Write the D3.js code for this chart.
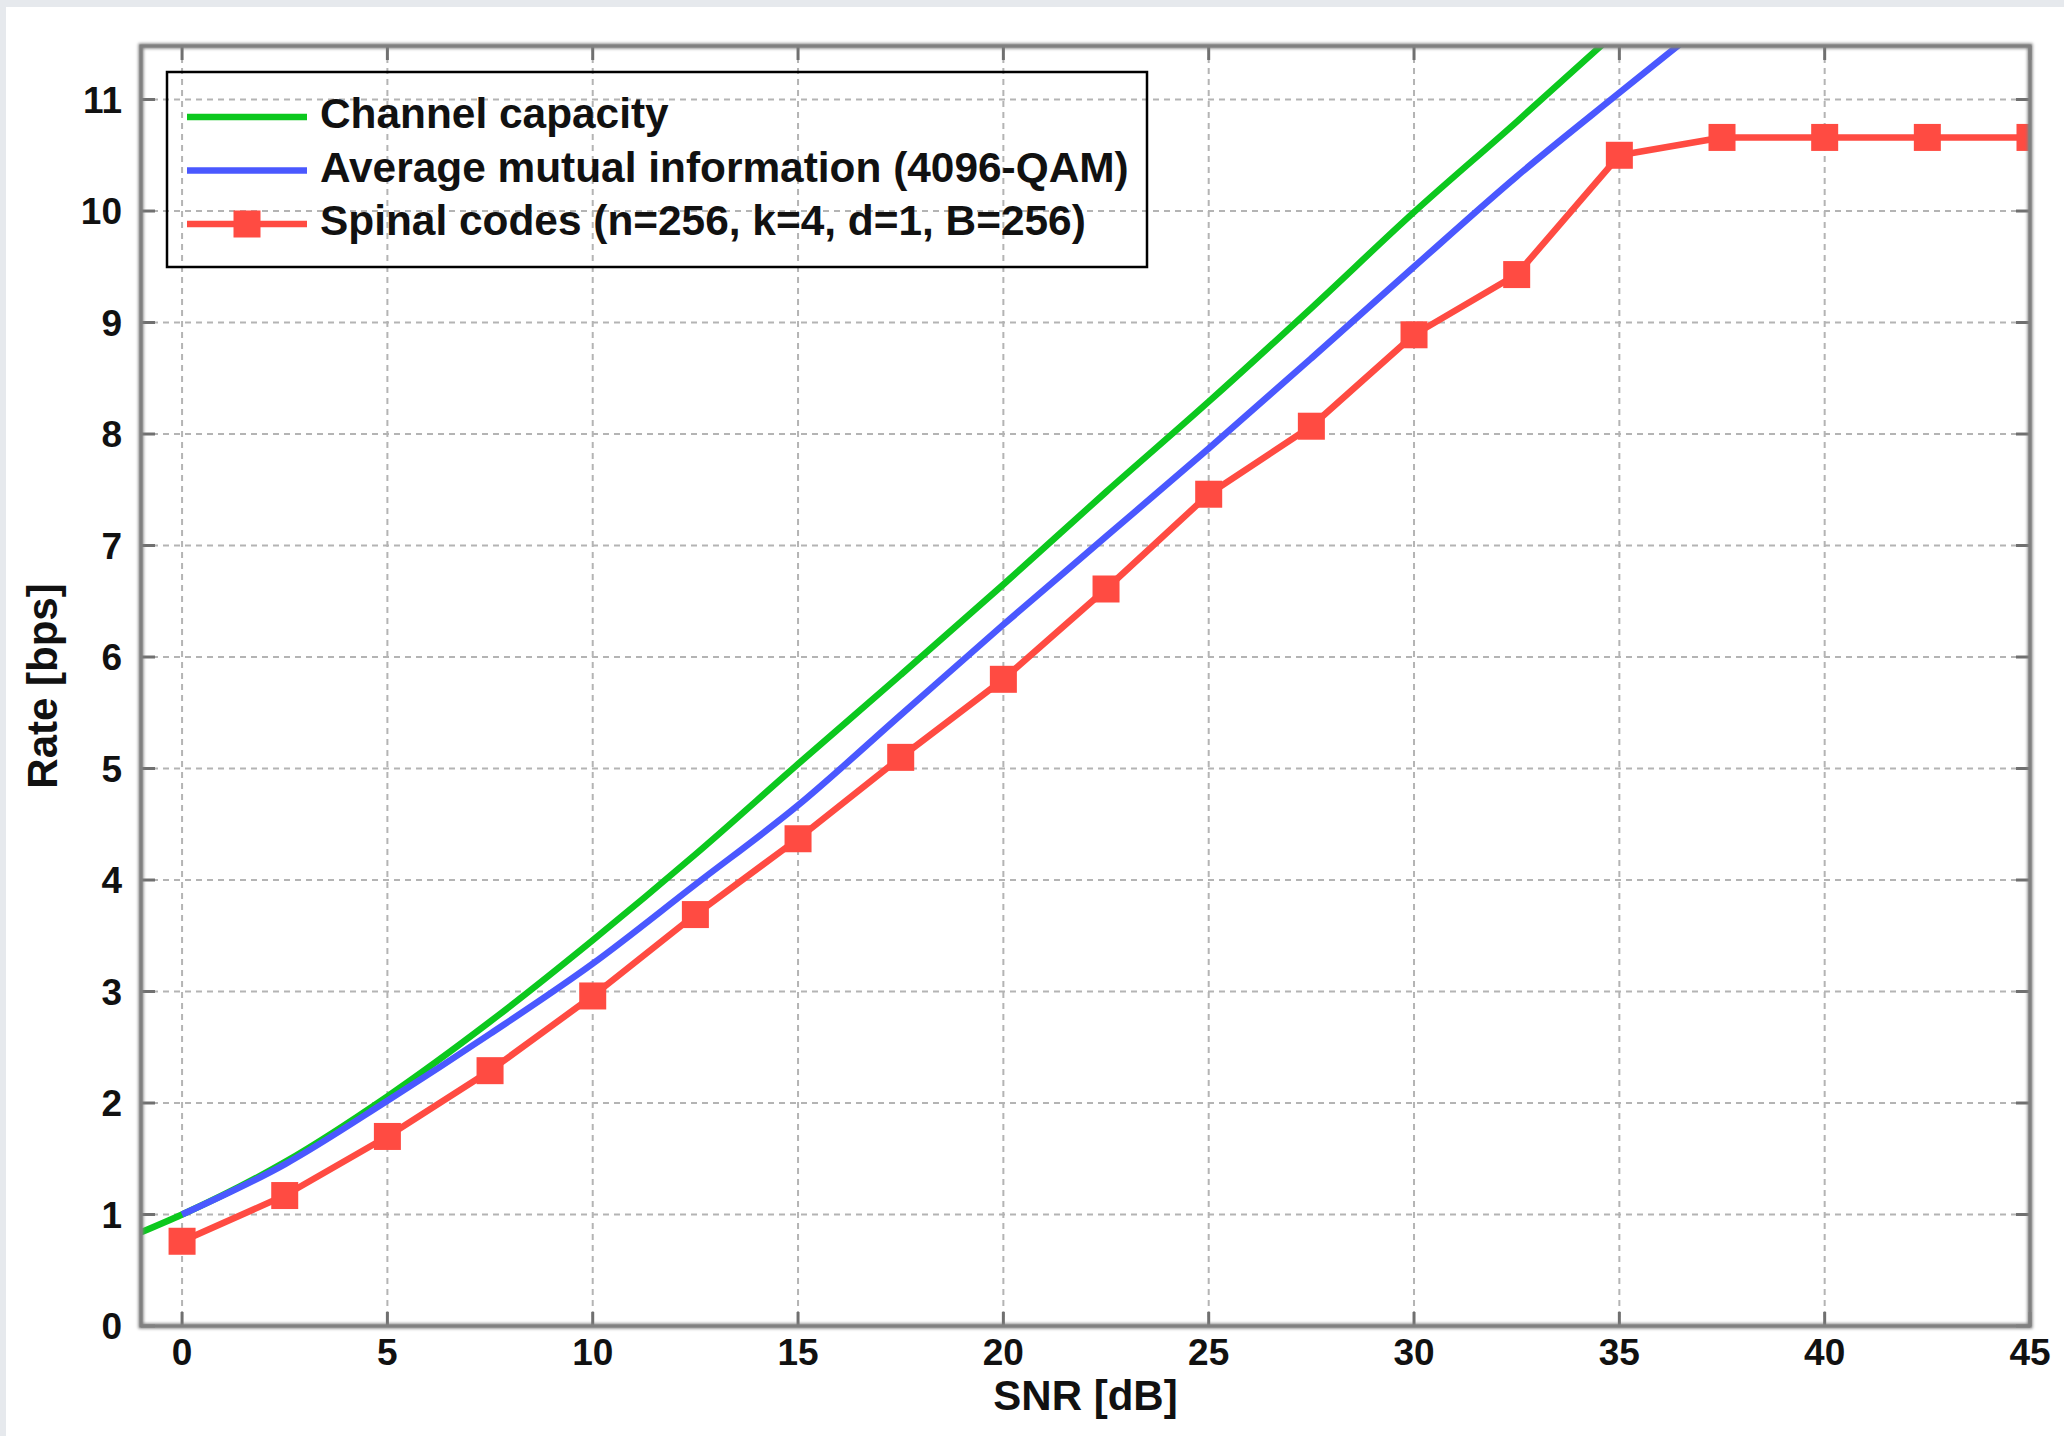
<!DOCTYPE html>
<meta charset="utf-8">
<style>
  body { margin: 0; background: #e6e9ed; }
  svg { display: block; }
  text { font-family: "Liberation Sans", Arial, sans-serif; font-weight: bold; fill: #111; }
  .grid line { stroke: #b4b4b4; stroke-width: 2; stroke-dasharray: 6 5; }
  .frame { fill: none; stroke: #808080; stroke-width: 3; }
  .tick-mark { stroke: #707070; stroke-width: 3; }
</style>
<svg width="2064" height="1436"></svg>
<script src="https://d3js.org/d3.v7.min.js"></script>
<script>

	// channel capacity (green)
	var capSnr = [-1, 0, 2.5, 5, 7.5, 10, 12.5, 15, 17.5, 20, 22.5, 25, 27.5, 30, 32.5, 35];
	var capRate = [0.84, 1.0, 1.47, 2.06, 2.73, 3.46, 4.23, 5.04, 5.84, 6.65, 7.48, 8.29, 9.13, 9.99, 10.8, 11.63];

	// average mutual information, 4096-QAM (blue)
	var amiSnr = [0, 2.5, 5, 7.5, 10, 12.5, 15, 17.5, 20, 22.5, 25, 27.5, 30, 32.5, 35, 37.5];
	var amiRate = [1.0, 1.45, 2.02, 2.62, 3.25, 3.96, 4.67, 5.48, 6.29, 7.08, 7.87, 8.68, 9.5, 10.31, 11.06, 11.8];

	// spinal codes (red, square markers)
	var spinalSnr = [0, 2.5, 5, 7.5, 10, 12.5, 15, 17.5, 20, 22.5, 25, 27.5, 30, 32.5, 35, 37.5, 40, 42.5, 45];
	var spinalRate = [0.76, 1.17, 1.7, 2.29, 2.96, 3.69, 4.37, 5.1, 5.8, 6.61, 7.46, 8.07, 8.89, 9.43, 10.5, 10.66, 10.66, 10.66, 10.66];

	var xTicks = [0, 5, 10, 15, 20, 25, 30, 35, 40, 45];
	var yTicks = [0, 1, 2, 3, 4, 5, 6, 7, 8, 9, 10, 11];

	var legendLabels = ["Channel capacity", "Average mutual information (4096-QAM)", "Spinal codes (n=256, k=4, d=1, B=256)"];
	var colors = ["#0cc81e", "#4a58ff", "#ff4b42"];

	var margin = {top: 46, right: 34, bottom: 110, left: 141},
		width = 2064 - margin.left - margin.right,
		height = 1436 - margin.top - margin.bottom;

	var svg = d3.select("svg");

	// white page with a thin grey edge top and left
	svg.append("rect").attr("x", 6).attr("y", 7).attr("width", 2064).attr("height", 1436).attr("fill", "#fff");

	var defs = svg.append("defs");
	var shadow = defs.append("filter").attr("id", "soft").attr("x", "-5%").attr("y", "-5%").attr("width", "110%").attr("height", "110%");
	shadow.append("feGaussianBlur").attr("stdDeviation", 1.5);

	var g = svg.append("g").attr("transform", "translate(" + margin.left + "," + margin.top + ")");

	var x = d3.scaleLinear().domain([-1, 45]).range([0, width]);
	var y = d3.scaleLinear().domain([0, 11.48]).range([height, 0]);

	g.append("clipPath").attr("id", "clip")
		.append("rect").attr("width", width).attr("height", height);

	// grid
	var grid = g.append("g").attr("class", "grid");
	grid.selectAll(".vx").data(xTicks.filter(function(d) { return d < 45; })).enter().append("line")
		.attr("x1", x).attr("x2", x).attr("y1", 0).attr("y2", height);
	grid.selectAll(".hy").data(yTicks.filter(function(d) { return d > 0; })).enter().append("line")
		.attr("y1", y).attr("y2", y).attr("x1", 0).attr("x2", width);

	// tick marks on all four sides, pointing inward
	var tl = 14;
	var ticks = g.append("g");
	xTicks.forEach(function(d) {
		ticks.append("line").attr("class", "tick-mark").attr("x1", x(d)).attr("x2", x(d)).attr("y1", height).attr("y2", height - tl);
		ticks.append("line").attr("class", "tick-mark").attr("x1", x(d)).attr("x2", x(d)).attr("y1", 0).attr("y2", tl);
	});
	yTicks.forEach(function(d) {
		ticks.append("line").attr("class", "tick-mark").attr("y1", y(d)).attr("y2", y(d)).attr("x1", 0).attr("x2", tl);
		ticks.append("line").attr("class", "tick-mark").attr("y1", y(d)).attr("y2", y(d)).attr("x1", width).attr("x2", width - tl);
	});

	// tick labels
	g.append("g").selectAll("text").data(xTicks).enter().append("text")
		.attr("x", x).attr("y", height + 39)
		.attr("text-anchor", "middle")
		.style("font-size", "37px")
		.text(function(d) { return d; });
	g.append("g").selectAll("text").data(yTicks).enter().append("text")
		.attr("x", -19).attr("y", y).attr("dy", "0.36em")
		.attr("text-anchor", "end")
		.style("font-size", "37px")
		.text(function(d) { return d; });

	// axis titles
	g.append("text")
		.attr("x", width / 2).attr("y", height + 84)
		.attr("text-anchor", "middle")
		.style("font-size", "42px")
		.text("SNR [dB]");
	g.append("text")
		.attr("transform", "translate(" + (-84) + "," + (height / 2) + ") rotate(-90)")
		.attr("text-anchor", "middle")
		.style("font-size", "42px")
		.text("Rate [bps]");

	// curves
	var line = d3.line()
		.x(function(d) { return x(d[0]); })
		.y(function(d) { return y(d[1]); });

	var plot = g.append("g").attr("clip-path", "url(#clip)");

	plot.append("path")
		.datum(d3.zip(capSnr, capRate))
		.attr("fill", "none").attr("stroke", colors[0]).attr("stroke-width", 6.5)
		.attr("d", line.curve(d3.curveMonotoneX));

	plot.append("path")
		.datum(d3.zip(amiSnr, amiRate))
		.attr("fill", "none").attr("stroke", colors[1]).attr("stroke-width", 6.5)
		.attr("d", line.curve(d3.curveMonotoneX));

	plot.append("path")
		.datum(d3.zip(spinalSnr, spinalRate))
		.attr("fill", "none").attr("stroke", colors[2]).attr("stroke-width", 6.5)
		.attr("stroke-linejoin", "round")
		.attr("d", line.curve(d3.curveLinear));

	var ms = 27;
	plot.append("g").selectAll("rect").data(d3.zip(spinalSnr, spinalRate)).enter().append("rect")
		.attr("x", function(d) { return x(d[0]) - ms / 2; })
		.attr("y", function(d) { return y(d[1]) - ms / 2; })
		.attr("width", ms).attr("height", ms)
		.attr("fill", colors[2]);

	// frame with a soft edge
	g.append("rect").attr("class", "frame").attr("width", width).attr("height", height)
		.attr("stroke", "#c8c8c8").style("stroke-width", 5).attr("filter", "url(#soft)");
	g.append("rect").attr("class", "frame").attr("width", width).attr("height", height);

	// legend
	var legend = g.append("g").attr("transform", "translate(26,26)");
	legend.append("rect")
		.attr("width", 980).attr("height", 195)
		.attr("fill", "none").attr("stroke", "#000").attr("stroke-width", 2.5);

	var row = legend.selectAll(".row").data(legendLabels).enter().append("g")
		.attr("transform", function(d, i) { return "translate(0," + (45 + i * 53.5) + ")"; });
	row.append("line")
		.attr("x1", 20).attr("x2", 140)
		.attr("stroke", function(d, i) { return colors[i]; })
		.attr("stroke-width", 6.5);
	row.filter(function(d, i) { return i === 2; }).append("rect")
		.attr("x", 80 - ms / 2).attr("y", -ms / 2).attr("width", ms).attr("height", ms)
		.attr("fill", colors[2]);
	row.append("text")
		.attr("x", 153).attr("dy", "0.27em")
		.style("font-size", "42.4px")
		.text(function(d) { return d; });

</script>
